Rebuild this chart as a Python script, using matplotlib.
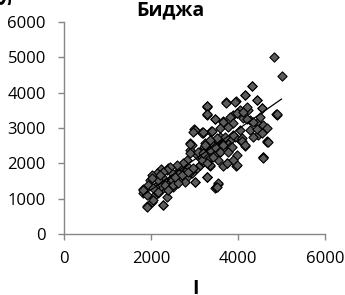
import numpy as np
import matplotlib
matplotlib.use("Agg")
import matplotlib.pyplot as plt

# --- data (I on x, S on y) ---
i_vals = [
    4826, 5010, 4320, 4160, 4428, 3723, 3953, 3279, 3279, 4543, 4872, 4236, 4198, 4045, 3968,
    3892, 3815, 3470, 3647, 2988, 3164, 3378, 4121, 4275, 4428, 4581, 4658, 4466, 4673, 4566,
    4160, 4045, 3930, 3815, 3738, 3662, 3585, 3509, 3432, 3356, 3294, 3218, 3126, 3049, 2934,
    2896, 3164, 3241, 3356, 3470, 3585, 3700, 3815, 3953, 3738, 3662, 3547, 3356, 3279, 3547,
    3470, 3011, 2858, 2743, 2666, 2781, 2934, 3049, 2589, 2513, 2436, 2360, 2283, 2222, 2398,
    2130, 2053, 2015, 1977, 1939, 1823, 1823, 1900, 2015, 2268, 2053, 2168, 2360, 2398, 2513,
    2283, 2206, 2092, 2666, 2743, 2819, 2896, 3126, 3203, 2628, 2475, 2551, 2436, 2245, 2168,
    3287, 3287, 3011, 3196, 2897, 4897, 4667, 4575, 3977, 3287, 3540, 3494,
    2973, 3164, 3371, 2896, 3241, 3394, 3509, 2896, 3088, 3164, 3356, 3279, 3509, 3011, 2819,
    2743, 2590, 2436, 2360, 2283, 2206, 2015, 2053, 1824, 1900, 2053, 1900, 2283, 2168, 2321,
    2474, 2551, 2704, 2858, 2972, 2781, 2398, 2513, 2628,
    4314, 4161, 4445, 3931, 3724, 3280, 3280, 4544, 4889, 3985, 4123, 3472, 3663, 3893, 4199,
    4353, 4506, 3188, 3395, 3587, 3778, 4046, 4276, 4429, 4544, 4353, 4085, 3893, 3702, 3510,
    3357, 3242, 3472, 3663, 3855, 4085, 4161, 4697, 4582, 3970, 3893, 3740, 3433, 3280, 3204,
    3587, 3778,
]
s_vals = [
    5005, 4476, 4203, 3938, 3797, 3750, 3768, 3627, 3400, 3561, 3400, 3514, 3608, 3514, 3438,
    3372, 3325, 3259, 3212, 2966, 2900, 2929, 3278, 3230, 3136, 3089, 2995, 2806, 2636, 2173,
    2494, 2664, 2759, 2664, 2570, 2664, 2759, 2617, 2494, 2381, 2551, 2456, 2334, 2239, 2522,
    2381, 2173, 2239, 2145, 2239, 2334, 2428, 2475, 1928, 2003, 1928, 2098, 1928, 1626, 1418,
    1296, 1484, 1909, 1984, 1909, 1767, 1739, 1862, 1767, 1626, 1531, 1437, 1531, 1833, 1862,
    1720, 1626, 1673, 1531, 1390, 1267, 1154, 795, 918, 823, 1059, 1154, 1059, 1248, 1342,
    1296, 1342, 1342, 1579, 1673, 1626, 1767, 1956, 2051, 1720, 1720, 1437, 1342, 1626, 1531,
    3598, 3371, 2946, 2861, 2578, 3371, 2606, 2181, 1955, 1615, 1445, 1332,
    2899, 2852, 2899, 2550, 2568, 2568, 2663, 2285, 2332, 2096, 1955, 1624, 1341, 1483, 2096,
    2002, 1955, 1908, 1813, 1766, 1672, 1577, 1294, 1247, 1105, 964, 775, 822, 1200, 1388,
    1530, 1624, 1672, 1766, 1860, 1483, 1247, 1388, 1436,
    4193, 3938, 3797, 3749, 3721, 3627, 3400, 3561, 3400, 3419, 3466, 3249, 3183, 3136, 3249,
    3183, 3306, 2900, 2928, 2994, 3041, 2947, 2947, 2966, 2853, 2758, 2711, 2805, 2758, 2711,
    2664, 2522, 2475, 2522, 2475, 2645, 2522, 2617, 2145, 2239, 2098, 2003, 2192, 2003, 2286,
    2333, 2333,
]
trend_x = [1800, 5000]
trend_y = [1080, 3820]

title = "Биджа"
x_label = "I"
y_label = "S"
x_ticks = [0, 2000, 4000, 6000]
y_ticks = [0, 1000, 2000, 3000, 4000, 5000, 6000]

plt.rcParams['font.family'] = ['Open Sans', 'DejaVu Sans']

fig = plt.figure(figsize=(3.45, 2.95), dpi=100)
ax = fig.add_axes([0.1855, 0.207, 0.7565, 0.718])

ax.scatter(i_vals, s_vals, marker='D', s=22, facecolor='#5c5c5c',
           edgecolor='black', linewidths=0.8, zorder=3)
ax.plot(trend_x, trend_y, color='black', lw=0.9, zorder=4)

ax.set_xlim(0, 6000)
ax.set_ylim(0, 6000)
ax.set_xticks(x_ticks)
ax.set_yticks(y_ticks)

gray = '#868686'
for side in ['top', 'right']:
    ax.spines[side].set_visible(False)
for side in ['left', 'bottom']:
    ax.spines[side].set_color(gray)
    ax.spines[side].set_linewidth(1.0)
ax.tick_params(axis='both', colors=gray, labelcolor='black', labelsize=12,
               length=4, width=1.0, direction='out')
ax.tick_params(axis='x', pad=8)
ax.tick_params(axis='y', pad=9)

fig.text(0.493, 0.965, title, ha='center', va='center', fontsize=14, fontweight='bold')
fig.text(0.568, 0.02, x_label, ha='center', va='center', fontsize=14, fontweight='bold')
fig.text(0.017, 1.0, y_label, ha='center', va='center', fontsize=14, fontweight='bold', rotation=90)

fig.savefig("out.png", dpi=100)
